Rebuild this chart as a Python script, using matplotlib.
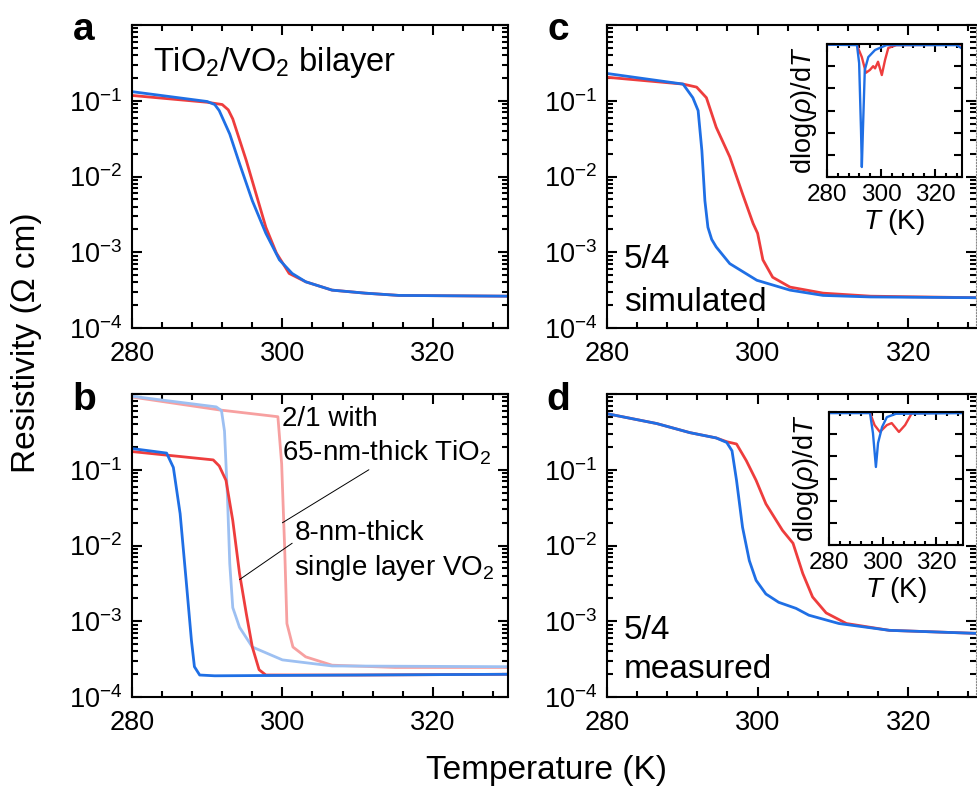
import numpy as np
import matplotlib
matplotlib.use("Agg")
import matplotlib.pyplot as plt
from matplotlib.ticker import FixedLocator, MultipleLocator, LogLocator, NullFormatter

plt.rcParams["font.family"] = ["Liberation Sans", "DejaVu Sans"]
plt.rcParams["mathtext.fontset"] = "custom"
plt.rcParams["mathtext.rm"] = "Liberation Sans"
plt.rcParams["mathtext.it"] = "Liberation Sans:italic"
plt.rcParams["axes.linewidth"] = 1.5

###############################################################
# data (T in K, log10 of resistivity)
###############################################################
# panel a - TiO2/VO2 bilayer
a_red_T = [280, 290, 292, 292.8, 293.4, 295.2, 296.5, 297.8, 299.2, 300.9, 303.1, 306.6, 311, 315.5, 330]
a_red_logr = [-0.93, -1.02, -1.05, -1.12, -1.24, -1.79, -2.23, -2.67, -3.01, -3.28, -3.39, -3.5, -3.54, -3.57, -3.58]
a_blue_T = [280, 290, 291, 291.6, 293, 294.3, 296, 297.8, 299.6, 301.3, 303.1, 306.6, 311, 315.5, 330]
a_blue_logr = [-0.88, -1.01, -1.05, -1.13, -1.44, -1.83, -2.32, -2.75, -3.1, -3.28, -3.39, -3.5, -3.54, -3.57, -3.58]

# panel b - 2/1 with thick TiO2 (dark) and single layer VO2 (light)
b_red_T = [280, 290.8, 291.6, 292.5, 293.4, 294.3, 295.2, 296, 296.9, 297.8, 310, 330]
b_red_logr = [-0.76, -0.87, -0.95, -1.14, -1.67, -2.37, -2.9, -3.34, -3.64, -3.71, -3.71, -3.7]
b_blue_T = [280, 284.6, 285.5, 286.4, 287.2, 287.9, 288.3, 289, 291, 310, 330]
b_blue_logr = [-0.72, -0.78, -0.97, -1.58, -2.46, -3.25, -3.6, -3.71, -3.72, -3.71, -3.7]
b_lred_T = [280, 291.6, 299.4, 299.9, 300.3, 300.6, 301.4, 303.1, 306.6, 315, 330]
b_lred_logr = [-0.04, -0.21, -0.30, -0.92, -2.03, -3.03, -3.34, -3.47, -3.58, -3.61, -3.61]
b_lblue_T = [280, 291.2, 291.9, 292.3, 292.7, 293, 293.4, 294.3, 296, 300, 306.6, 330]
b_lblue_logr = [-0.03, -0.17, -0.22, -0.49, -1.37, -2.24, -2.82, -3.08, -3.34, -3.51, -3.59, -3.6]

# panel c - 5/4 simulated
c_red_T = [280, 290.1, 291.9, 293.2, 294.5, 296.3, 298, 299.4, 300, 300.7, 302, 304.3, 308.7, 315, 329]
c_red_logr = [-0.69, -0.78, -0.82, -0.96, -1.35, -1.74, -2.23, -2.62, -2.75, -3.1, -3.33, -3.46, -3.54, -3.58, -3.6]
c_blue_T = [280, 290.1, 291.4, 292.1, 292.6, 293, 293.4, 293.9, 294.5, 296.3, 299.9, 304.3, 308.7, 315, 329]
c_blue_logr = [-0.64, -0.78, -0.96, -1.13, -1.66, -2.32, -2.67, -2.83, -2.93, -3.15, -3.37, -3.5, -3.57, -3.59, -3.6]

# panel d - 5/4 measured
d_red_T = [280, 286.6, 291, 294.5, 295.9, 297.2, 298.5, 299.8, 301.1, 303.3, 304.7, 306, 307.3, 309.1, 311.8, 317.5, 329]
d_red_logr = [-0.26, -0.39, -0.51, -0.58, -0.63, -0.66, -0.88, -1.14, -1.45, -1.8, -1.97, -2.37, -2.68, -2.89, -3.03, -3.12, -3.16]
d_blue_T = [280, 286.6, 291, 294.5, 295.9, 296.6, 297.2, 298, 298.9, 299.8, 301.1, 302.8, 305.1, 306.8, 310.8, 317.5, 329]
d_blue_logr = [-0.26, -0.39, -0.51, -0.58, -0.64, -0.75, -1.14, -1.76, -2.2, -2.46, -2.64, -2.75, -2.83, -2.92, -3.03, -3.12, -3.16]

# insets - dlog(rho)/dT (arbitrary units)
ic_blue_T = [280, 291.1, 291.9, 292.6, 292.9, 293.3, 294, 295.3, 297.8, 302, 328, 330]
ic_blue_d = [-0.03, -0.05, -0.86, -3.9, -5.55, -3.9, -1.17, -0.59, -0.27, -0.05, -0.05, -0.2]
ic_red_T = [280, 291, 292.9, 294.4, 295.9, 297.1, 297.8, 298.9, 300.3, 301.5, 302.7, 305.7, 330]
ic_red_d = [-0.03, -0.03, -0.59, -1.3, -1.17, -1.0, -1.1, -0.8, -1.4, -0.72, -0.18, -0.05, -0.03]
id_blue_T = [280, 295.3, 296.4, 297.5, 298.3, 299.8, 301.6, 305, 330]
id_blue_d = [-0.05, -0.05, -0.95, -2.48, -1.4, -0.68, -0.23, -0.08, -0.05]
id_red_T = [280, 295.3, 297, 299, 301.6, 303.4, 306.1, 308.4, 310.9, 330]
id_red_d = [-0.03, -0.03, -0.59, -0.9, -0.59, -0.5, -0.9, -0.59, -0.05, -0.03]

red = "#EE3D3D"
blue = "#1F6FE5"
light_red = "#F7A0A0"
light_blue = "#9DC0F2"

W, H = 977, 791
fig = plt.figure(figsize=(W / 100, H / 100), dpi=100)


def box(left, top, right, bottom):
    return [left / W, 1 - bottom / H, (right - left) / W, (bottom - top) / H]


def style_main(ax, xmax):
    ax.set_yscale("log")
    ax.set_xlim(280, xmax)
    ax.set_ylim(1e-4, 1)
    ax.xaxis.set_major_locator(FixedLocator([280, 300, 320]))
    ax.xaxis.set_minor_locator(MultipleLocator(4))
    ax.yaxis.set_major_locator(FixedLocator([1e-4, 1e-3, 1e-2, 1e-1, 1]))
    ax.yaxis.set_minor_locator(LogLocator(base=10, subs=np.arange(2, 10), numticks=20))
    ax.yaxis.set_minor_formatter(NullFormatter())
    ax.set_yticklabels([r"$\mathdefault{10^{-4}}$", r"$\mathdefault{10^{-3}}$",
                        r"$\mathdefault{10^{-2}}$", r"$\mathdefault{10^{-1}}$", ""])
    ax.tick_params(which="both", direction="in", top=True, right=True,
                   labelsize=19.5, width=1.5)
    ax.tick_params(which="major", length=7)
    ax.tick_params(which="minor", length=4)
    ax.tick_params(axis="x", pad=9)
    ax.tick_params(axis="y", pad=7)


def style_inset(ax):
    ax.set_xlim(280, 330)
    ax.set_ylim(-6, 0)
    ax.xaxis.set_major_locator(FixedLocator([280, 300, 320]))
    ax.xaxis.set_minor_locator(MultipleLocator(4))
    ax.yaxis.set_major_locator(MultipleLocator(1))
    ax.set_yticklabels([])
    ax.tick_params(which="both", direction="in", top=True, right=True,
                   labelsize=17.5, width=1.5, pad=5)
    ax.tick_params(which="major", length=6)
    ax.tick_params(which="minor", length=3)
    ax.set_xlabel("$T$ (K)", fontsize=20, labelpad=1)
    ax.set_ylabel(r"dlog($\rho$)/d$T$", fontsize=19.5, labelpad=1)


lw = 2.0

# panel a
ax_a = fig.add_axes(box(132, 25, 508, 328))
ax_a.plot(a_red_T, 10 ** np.array(a_red_logr), color=red, lw=lw)
ax_a.plot(a_blue_T, 10 ** np.array(a_blue_logr), color=blue, lw=lw)
style_main(ax_a, 330)
ax_a.text(0.055, 0.875, "TiO$_2$/VO$_2$ bilayer", transform=ax_a.transAxes,
          fontsize=23.5, va="center", ha="left")

# panel b
ax_b = fig.add_axes(box(132, 394, 508, 697))
ax_b.plot(b_lred_T, 10 ** np.array(b_lred_logr), color=light_red, lw=lw)
ax_b.plot(b_lblue_T, 10 ** np.array(b_lblue_logr), color=light_blue, lw=lw)
ax_b.plot(b_red_T, 10 ** np.array(b_red_logr), color=red, lw=lw)
ax_b.plot(b_blue_T, 10 ** np.array(b_blue_logr), color=blue, lw=lw)
style_main(ax_b, 330)
ax_b.text(300.0, 10 ** -0.33, "2/1 with", fontsize=20, va="center", ha="left")
ax_b.text(300.0, 10 ** -0.78, "65-nm-thick TiO$_2$", fontsize=20, va="center", ha="left")
ax_b.text(301.6, 10 ** -1.84, "8-nm-thick", fontsize=20, va="center", ha="left")
ax_b.text(301.6, 10 ** -2.30, "single layer VO$_2$", fontsize=20, va="center", ha="left")
ax_b.annotate("", xy=(300.0, 10 ** -1.70), xytext=(311.5, 10 ** -1.0),
              arrowprops=dict(arrowstyle="-", color="black", lw=0.7,
                              shrinkA=0, shrinkB=0))
ax_b.annotate("", xy=(294.3, 10 ** -2.45), xytext=(301.3, 10 ** -1.97),
              arrowprops=dict(arrowstyle="-", color="black", lw=0.7,
                              shrinkA=0, shrinkB=0))

# panel c
ax_c = fig.add_axes(box(607, 25, 976, 328))
ax_c.plot(c_red_T, 10 ** np.array(c_red_logr), color=red, lw=lw)
ax_c.plot(c_blue_T, 10 ** np.array(c_blue_logr), color=blue, lw=lw)
style_main(ax_c, 329)
ax_c.text(0.045, 0.225, "5/4", transform=ax_c.transAxes, fontsize=24, va="center")
ax_c.text(0.045, 0.085, "simulated", transform=ax_c.transAxes, fontsize=24, va="center")

# panel d
ax_d = fig.add_axes(box(607, 394, 976, 697))
ax_d.plot(d_red_T, 10 ** np.array(d_red_logr), color=red, lw=lw)
ax_d.plot(d_blue_T, 10 ** np.array(d_blue_logr), color=blue, lw=lw)
style_main(ax_d, 329)
ax_d.text(0.045, 0.22, "5/4", transform=ax_d.transAxes, fontsize=24, va="center")
ax_d.text(0.045, 0.09, "measured", transform=ax_d.transAxes, fontsize=24, va="center")

for ax in (ax_c, ax_d):
    ax.spines["right"].set_linestyle(":")
    ax.spines["right"].set_color("#888888")
    ax.spines["right"].set_linewidth(0.8)

# insets
ins_c = fig.add_axes(box(827, 44, 962, 177))
ins_c.plot(ic_red_T, ic_red_d, color=red, lw=1.7)
ins_c.plot(ic_blue_T, ic_blue_d, color=blue, lw=1.7)
style_inset(ins_c)

ins_d = fig.add_axes(box(829, 412, 963, 545))
ins_d.plot(id_red_T, id_red_d, color=red, lw=1.7)
ins_d.plot(id_blue_T, id_blue_d, color=blue, lw=1.7)
style_inset(ins_d)

# panel letters and shared labels
for letter, x, y in [("a", 84, 30), ("b", 84, 400), ("c", 558, 30), ("d", 558, 400)]:
    fig.text(x / W, 1 - y / H, letter, fontsize=28, fontweight="bold",
             ha="center", va="center")

fig.text(27 / W, 1 - 343 / H, "Resistivity (Ω cm)", fontsize=24, rotation=90,
         ha="center", va="center")
fig.text(547 / W, 1 - 770 / H, "Temperature (K)", fontsize=24,
         ha="center", va="center")

fig.savefig("out.png", dpi=100)
